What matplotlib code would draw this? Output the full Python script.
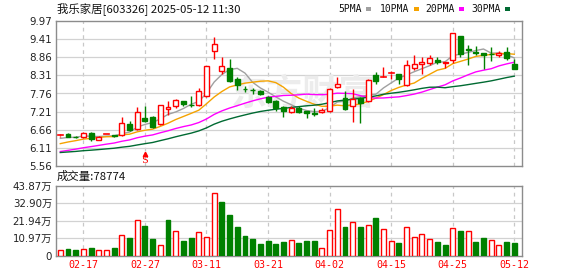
import matplotlib
matplotlib.use("Agg")
import matplotlib.pyplot as plt
import matplotlib.transforms as mtransforms
from matplotlib.patches import Rectangle
import numpy as np

# ---------------- data ----------------
title = "我乐家居[603326] 2025-05-12 11:30"
# closes before the visible window (estimated from moving-average lines)
prev_closes = [5.95, 5.93, 5.90, 5.92, 5.88, 5.90, 5.87, 5.91, 5.89, 5.95,
               5.75, 5.68, 5.70, 5.70,
               5.72, 5.75, 5.80, 5.78, 5.85, 5.87,
               5.95, 6.02, 6.10, 6.15, 6.18,
               6.30, 6.42, 6.35, 6.44]
opens = [6.48, 6.52, 6.45, 6.45, 6.56, 6.36, 6.51, 6.49, 6.51, 6.83,
         6.68, 7.02, 7.05, 6.83, 7.29, 7.37, 7.53, 7.43, 7.41, 7.69,
         9.05, 8.46, 8.53, 8.22, 7.91, 7.88, 7.85, 7.67, 7.55, 7.35,
         7.19, 7.33, 7.22, 7.16, 7.20, 7.23, 7.96, 7.63, 7.37, 7.63,
         7.53, 8.34, 8.25, 8.37, 8.36, 8.01, 8.55, 8.65, 8.69, 8.78,
         8.68, 8.79, 9.51, 9.11, 9.03, 8.99, 8.98, 8.93, 9.03, 8.66]
highs = [6.53, 6.56, 6.47, 6.58, 6.60, 6.47, 6.54, 6.51, 7.05, 6.93,
         7.35, 7.39, 7.08, 7.42, 7.54, 7.60, 7.53, 7.69, 7.94, 8.61,
         9.49, 8.87, 8.82, 8.28, 7.99, 7.93, 7.86, 7.70, 7.58, 7.37,
         7.39, 7.39, 7.23, 7.31, 7.31, 7.92, 8.28, 7.85, 7.91, 7.65,
         8.22, 8.42, 8.56, 8.44, 8.37, 8.79, 8.94, 8.87, 8.94, 8.87,
         8.73, 9.60, 9.52, 9.24, 9.21, 9.00, 9.17, 9.07, 9.19, 8.82]
lows = [6.45, 6.43, 6.41, 6.42, 6.33, 6.35, 6.49, 6.44, 6.48, 6.63,
        6.66, 6.90, 6.72, 6.80, 7.11, 7.33, 7.38, 7.35, 7.39, 7.66,
        8.81, 8.36, 8.10, 7.87, 7.81, 7.75, 7.72, 7.48, 7.22, 7.05,
        7.17, 7.17, 7.03, 7.09, 7.17, 7.20, 7.93, 7.27, 6.91, 6.88,
        7.50, 8.06, 8.24, 8.22, 8.06, 7.99, 8.48, 8.35, 8.63, 8.65,
        8.53, 8.69, 8.87, 8.63, 8.93, 8.52, 8.76, 8.87, 8.79, 8.50]
closes = [6.49, 6.45, 6.43, 6.56, 6.39, 6.45, 6.52, 6.47, 6.86, 6.66,
          7.20, 6.93, 6.76, 7.41, 7.35, 7.57, 7.45, 7.41, 7.83, 8.61,
          9.27, 8.60, 8.15, 8.02, 7.89, 7.86, 7.75, 7.51, 7.31, 7.22,
          7.33, 7.21, 7.17, 7.14, 7.25, 7.91, 8.06, 7.29, 7.61, 7.47,
          8.17, 8.16, 8.26, 8.38, 8.20, 8.64, 8.66, 8.72, 8.84, 8.72,
          8.71, 9.59, 8.96, 9.09, 9.01, 8.94, 8.96, 8.99, 8.83, 8.51]
volumes_wan = [3.70, 3.91, 3.29, 4.33, 4.53, 3.29, 3.29, 4.53, 13.0, 10.74,
               22.3, 18.8, 10.1, 6.81, 22.5, 15.5, 8.88, 11.36, 15.1, 11.8,
               39.7, 33.7, 25.8, 18.2, 12.6, 10.1, 7.0, 8.88, 7.0, 8.46,
               9.9, 7.64, 8.88, 8.88, 4.95, 16.3, 29.2, 18.2, 21.1, 18.2,
               19.4, 23.8, 16.7, 9.3, 7.64, 18.0, 11.8, 13.8, 10.5, 8.26,
               6.39, 17.4, 15.7, 15.5, 8.26, 11.36, 9.9, 6.81, 8.26, 7.88]
last_volume_text = "成交量:78774"
date_tick_idx = [3, 11, 19, 27, 35, 43, 51, 59]
date_tick_labels = ["02-17", "02-27", "03-11", "03-21", "04-02", "04-15", "04-25", "05-12"]
price_tick_labels = ["5.56", "6.11", "6.66", "7.21", "7.76", "8.31", "8.86", "9.41", "9.97"]
price_min, price_max = 5.56, 9.97
vol_tick_labels = ["0", "10.97万", "21.94万", "32.90万", "43.87万"]
vol_max = 43.87
ma_periods = [5, 10, 20, 30]
ma_names = ["5PMA", "10PMA", "20PMA", "30PMA"]
signal_idx = 11

# ---------------- style ----------------
RED = "#ff0000"
GREEN = "#008000"
MA_COLORS = ["#a0a0a0", "#f5a300", "#ff00ff", "#006a32"]
FRAME = "#8c8c8c"
GRID = "#d2d2d2"
VGRID = "#c8c8c8"

W, H = 578, 276
fig = plt.figure(figsize=(W / 100, H / 100), dpi=100)
L, R = 55.5, 522
axp = fig.add_axes([L / W, 1 - 166 / H, (R - L) / W, (166 - 21) / H])
axv = fig.add_axes([L / W, 1 - 255.5 / H, (R - L) / W, (255.5 - 186) / H])

n = len(closes)
x = np.arange(n)
xlim = (-0.62, 60.0)
bw = 0.64

for ax in (axp, axv):
    ax.set_xlim(*xlim)
    for s in ax.spines.values():
        s.set_color(FRAME)
        s.set_linewidth(1.0)
    ax.tick_params(length=0)
    for ti in date_tick_idx:
        ax.axvline(ti, color=VGRID, lw=0.9, ls=(0, (3, 3)), zorder=0)

# price panel
axp.set_ylim(price_min, price_max)
pticks = np.linspace(price_min, price_max, len(price_tick_labels))
axp.set_yticks(pticks)
axp.set_yticklabels(price_tick_labels, fontsize=7.4, color="#222222", family="DejaVu Sans")
axp.tick_params(axis="y", pad=2.5)
axp.set_xticks([])
for t in pticks[1:-1]:
    axp.axhline(t, color=GRID, lw=0.9, zorder=0)

# watermark
axp.text(0.53, 0.50, "东方财富", transform=axp.transAxes, fontsize=26,
         color="#ececec", family=["Noto Sans CJK SC"], ha="center", va="center",
         zorder=0.5, fontweight="bold")

# moving averages
allc = np.array(prev_closes + closes)
off = len(prev_closes)
for p, col in zip(ma_periods, MA_COLORS):
    ma = np.array([allc[off + i - p + 1: off + i + 1].mean() for i in range(n)])
    axp.plot(x, ma, color=col, lw=1.0, zorder=2)

# candles
for i in range(n):
    o, h, l, c = opens[i], highs[i], lows[i], closes[i]
    up = c >= o
    col = RED if up else GREEN
    top, bot = max(o, c), min(o, c)
    axp.plot([i, i], [top, h], color=col, lw=1.0, zorder=3, solid_capstyle="butt")
    axp.plot([i, i], [l, bot], color=col, lw=1.0, zorder=3, solid_capstyle="butt")
    if top - bot < 0.012:
        axp.plot([i - bw / 2, i + bw / 2], [c, c], color=col, lw=1.2, zorder=4)
    else:
        axp.add_patch(Rectangle((i - bw / 2, bot), bw, top - bot,
                                facecolor="white" if up else col, edgecolor=col,
                                lw=1.0, zorder=4))

# signal marker
trans = mtransforms.blended_transform_factory(axp.transData, axp.transAxes)
axp.plot([signal_idx], [0.083], marker="^", color=RED, ms=3.2, transform=trans,
         zorder=5, clip_on=False)
axp.text(signal_idx, 0.035, "S", transform=trans, color=RED, fontsize=7,
         family="DejaVu Serif", ha="center", va="center", zorder=5)

# volume panel
axv.set_ylim(0, vol_max)
vticks = np.linspace(0, vol_max, len(vol_tick_labels))
axv.set_yticks(vticks)
axv.set_yticklabels(vol_tick_labels, fontsize=7.4, color="#222222",
                    family=["DejaVu Sans", "Noto Sans CJK SC"])
axv.tick_params(axis="y", pad=2.5)
for t in vticks[1:-1]:
    axv.axhline(t, color=GRID, lw=0.9, zorder=0)
prevc = [prev_closes[-1]] + closes[:-1]
for i in range(n):
    up = closes[i] >= prevc[i]
    col = RED if up else GREEN
    axv.add_patch(Rectangle((i - bw / 2, 0), bw, volumes_wan[i],
                            facecolor="white" if up else col, edgecolor=col,
                            lw=1.0, zorder=3))
axv.set_xticks(date_tick_idx)
axv.set_xticklabels(date_tick_labels, fontsize=7.2, color=RED, family="DejaVu Sans Mono")
axv.tick_params(axis="x", pad=3.5)

# texts
fig.text(57 / W, 1 - 8.5 / H, title, fontsize=8.2, family=["Noto Sans CJK SC"],
         color="#111111", ha="left", va="center")
fig.text(57 / W, 1 - 176.5 / H, last_volume_text, fontsize=8.2,
         family=["Noto Sans CJK SC"], color="#111111", ha="left", va="center")

leg_x = [338, 380, 425, 471]
for name, col, lx in zip(ma_names, MA_COLORS, leg_x):
    t = fig.text(lx / W, 1 - 9 / H, name, fontsize=7.0, family="DejaVu Sans Mono",
                 color="#111111", ha="left", va="center")
    wpx = 6.0 * len(name)
    fig.patches.append(Rectangle(((lx + wpx + 4) / W, 1 - 10.5 / H), 5 / W, 3 / H,
                                 transform=fig.transFigure, facecolor=col,
                                 edgecolor="none"))

fig.savefig("out.png", dpi=100)
